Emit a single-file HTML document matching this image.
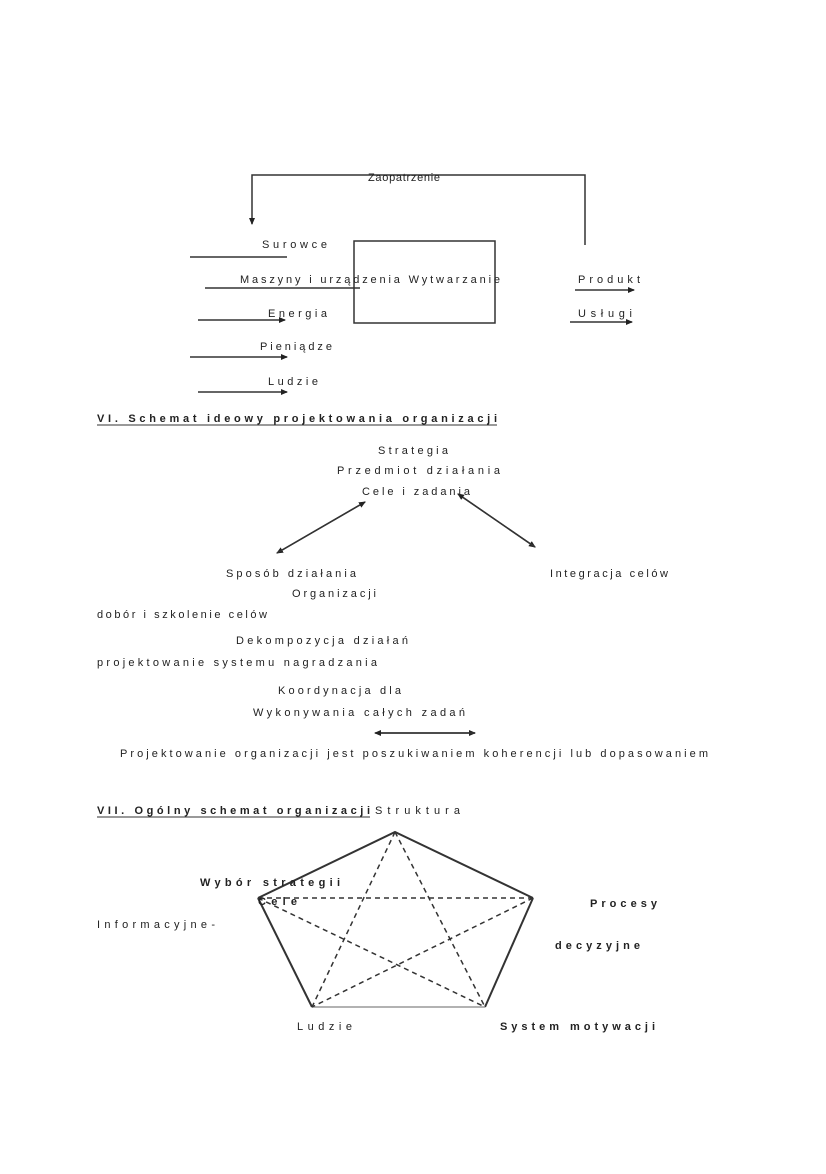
<!DOCTYPE html><html><head><meta charset="utf-8"><style>
body{margin:0;background:#fff}
svg text{font-family:"Liberation Sans",sans-serif;font-size:11px;fill:#222}
.b{font-weight:bold}
</style></head><body>
<svg width="826" height="1169" viewBox="0 0 826 1169" xmlns="http://www.w3.org/2000/svg">
<defs><marker id="a" markerUnits="userSpaceOnUse" markerWidth="8" markerHeight="8" refX="6" refY="4" orient="auto"><path d="M0,1L7,4L0,7z" fill="#222"/></marker></defs>
<g stroke="#333" stroke-width="1.5" fill="none">
<polyline points="585,245 585,175 252,175 252,224" marker-end="url(#a)"/>
<rect x="354" y="241" width="141" height="82"/>
<line x1="190" y1="257" x2="287" y2="257"/>
<line x1="205" y1="288" x2="360" y2="288"/>
<line x1="198" y1="320" x2="285" y2="320" marker-end="url(#a)"/>
<line x1="190" y1="357" x2="287" y2="357" marker-end="url(#a)"/>
<line x1="198" y1="392" x2="287" y2="392" marker-end="url(#a)"/>
<line x1="575" y1="290" x2="634" y2="290" marker-end="url(#a)"/>
<line x1="570" y1="322" x2="632" y2="322" marker-end="url(#a)"/>
<line x1="365" y1="502" x2="277" y2="553" marker-end="url(#a)"/>
<line x1="277" y1="553" x2="365" y2="502" marker-end="url(#a)"/>
<line x1="458" y1="494" x2="535" y2="547" marker-end="url(#a)"/>
<line x1="535" y1="547" x2="458" y2="494" marker-end="url(#a)"/>
<line x1="378" y1="733" x2="475" y2="733" marker-end="url(#a)"/>
<line x1="475" y1="733" x2="375" y2="733" marker-end="url(#a)"/>
<g stroke-width="2"><polyline points="258,898 395,832 533,898"/><line x1="258" y1="898" x2="312" y2="1007"/><line x1="533" y1="898" x2="485" y2="1007"/></g>
<line x1="312" y1="1007" x2="485" y2="1007" stroke="#999"/>
<g stroke-dasharray="5,4"><line x1="258" y1="898" x2="533" y2="898"/><line x1="395" y1="832" x2="312" y2="1007"/><line x1="395" y1="832" x2="485" y2="1007"/><line x1="258" y1="898" x2="485" y2="1007"/><line x1="533" y1="898" x2="312" y2="1007"/></g>
<line x1="97" y1="425" x2="497" y2="425" stroke-width="1"/>
<line x1="97" y1="817" x2="370" y2="817" stroke-width="1"/>
</g>
<text x="368" y="181" textLength="72" lengthAdjust="spacing">Zaopatrzenie</text>
<text x="262" y="248" textLength="65" lengthAdjust="spacing">Surowce</text>
<text x="240" y="283" textLength="260" lengthAdjust="spacing">Maszyny i urządzenia Wytwarzanie</text>
<text x="268" y="317" textLength="59" lengthAdjust="spacing">Energia</text>
<text x="260" y="350" textLength="72" lengthAdjust="spacing">Pieniądze</text>
<text x="268" y="385" textLength="50" lengthAdjust="spacing">Ludzie</text>
<text x="578" y="283" textLength="62" lengthAdjust="spacing">Produkt</text>
<text x="578" y="317" textLength="54" lengthAdjust="spacing">Usługi</text>
<text x="97" y="422" class="b" textLength="400" lengthAdjust="spacing">VI. Schemat ideowy projektowania organizacji</text>
<text x="378" y="454" textLength="70" lengthAdjust="spacing">Strategia</text>
<text x="337" y="474" textLength="163" lengthAdjust="spacing">Przedmiot działania</text>
<text x="362" y="495" textLength="108" lengthAdjust="spacing">Cele i zadania</text>
<text x="226" y="577" textLength="130" lengthAdjust="spacing">Sposób działania</text>
<text x="292" y="597" textLength="84" lengthAdjust="spacing">Organizacji</text>
<text x="550" y="577" textLength="118" lengthAdjust="spacing">Integracja celów</text>
<text x="97" y="618" textLength="170" lengthAdjust="spacing">dobór i szkolenie celów</text>
<text x="236" y="644" textLength="172" lengthAdjust="spacing">Dekompozycja działań</text>
<text x="97" y="666" textLength="280" lengthAdjust="spacing">projektowanie systemu nagradzania</text>
<text x="278" y="694" textLength="123" lengthAdjust="spacing">Koordynacja dla</text>
<text x="253" y="716" textLength="212" lengthAdjust="spacing">Wykonywania całych zadań</text>
<text x="120" y="757" textLength="588" lengthAdjust="spacing">Projektowanie organizacji jest poszukiwaniem koherencji lub dopasowaniem</text>
<text x="97" y="814" class="b" textLength="273" lengthAdjust="spacing">VII. Ogólny schemat organizacji</text>
<text x="375" y="814" textLength="85" lengthAdjust="spacing">Struktura</text>
<text x="200" y="886" class="b" textLength="140" lengthAdjust="spacing">Wybór strategii</text>
<text x="258" y="905" class="b" textLength="39" lengthAdjust="spacing">Cele</text>
<text x="97" y="928" textLength="118" lengthAdjust="spacing">Informacyjne-</text>
<text x="590" y="907" class="b" textLength="67" lengthAdjust="spacing">Procesy</text>
<text x="555" y="949" class="b" textLength="85" lengthAdjust="spacing">decyzyjne</text>
<text x="297" y="1030" textLength="55" lengthAdjust="spacing">Ludzie</text>
<text x="500" y="1030" class="b" textLength="155" lengthAdjust="spacing">System motywacji</text>
</svg>
</body></html>
